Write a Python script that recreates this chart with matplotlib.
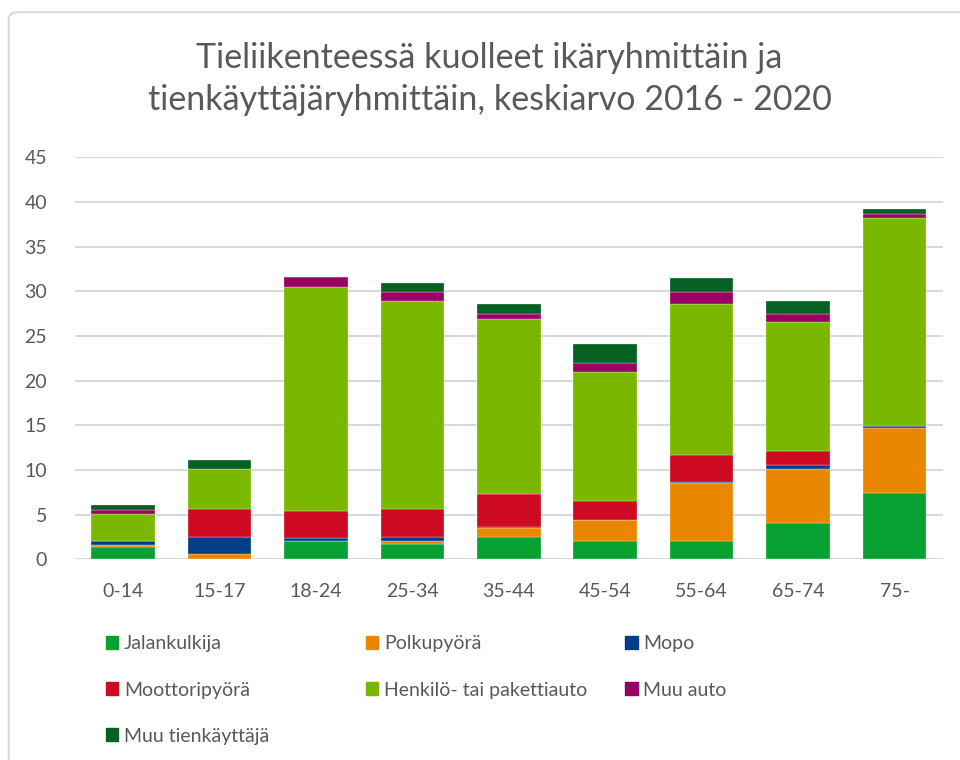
import numpy as np
import matplotlib
matplotlib.use('Agg')
import matplotlib.pyplot as plt
from matplotlib.patches import Patch, FancyBboxPatch

plt.rcParams['font.family'] = ['Lato', 'DejaVu Sans']

# keskiarvo 2016-2020, luettu kuvasta
ikaryhmat = ['0-14', '15-17', '18-24', '25-34', '35-44', '45-54', '55-64', '65-74', '75-']
jalankulkija = [1.4, 0.0, 2.0, 1.7, 2.5, 2.0, 2.1, 4.1, 7.4]
polkupyora = [0.2, 0.6, 0.1, 0.4, 1.0, 2.45, 6.4, 6.0, 7.25]
mopo = [0.4, 1.85, 0.3, 0.35, 0.15, 0.0, 0.15, 0.45, 0.3]
moottoripyora = [0.0, 3.15, 3.0, 3.15, 3.7, 2.1, 3.0, 1.55, 0.0]
henkiloauto = [3.1, 4.5, 25.1, 23.3, 19.6, 14.4, 16.9, 14.5, 23.3]
muu_auto = [0.45, 0.0, 1.05, 1.0, 0.5, 1.0, 1.4, 0.9, 0.45]
muu_tienkayttaja = [0.55, 1.0, 0.1, 1.0, 1.1, 2.1, 1.5, 1.4, 0.55]

sarjat = [
    ('Jalankulkija', jalankulkija, '#0aa133'),
    ('Polkupyörä', polkupyora, '#ea8500'),
    ('Mopo', mopo, '#003f87'),
    ('Moottoripyörä', moottoripyora, '#ce0a22'),
    ('Henkilö- tai pakettiauto', henkiloauto, '#7ab800'),
    ('Muu auto', muu_auto, '#990066'),
    ('Muu tienkäyttäjä', muu_tienkayttaja, '#056121'),
]

grey = '#595959'

fig = plt.figure(figsize=(9.6, 7.6), dpi=100)
ax = fig.add_axes([0.078, 0.264, 0.904, 0.529])

x = np.arange(len(ikaryhmat))
bottom = np.zeros(len(ikaryhmat))
for nimi, arvot, vari in sarjat:
    ax.bar(x, arvot, 0.66, bottom=bottom, color=vari, label=nimi,
           edgecolor='white', linewidth=0.2, zorder=3)
    bottom += np.array(arvot)

ax.set_xlim(-0.5, len(ikaryhmat) - 0.5)
ax.set_ylim(0, 45)
ax.set_yticks(range(0, 46, 5))
ax.set_xticks(x)
ax.set_xticklabels(ikaryhmat)
ax.yaxis.grid(True, color='#d9d9d9', linewidth=1.5, zorder=0)
ax.tick_params(length=0, labelsize=14, colors=grey)
ax.tick_params(axis='x', pad=17)
ax.tick_params(axis='y', pad=20)
for s in ax.spines.values():
    s.set_visible(False)

fig.text(0.51, 0.896, 'Tieliikenteessä kuolleet ikäryhmittäin ja\ntienkäyttäjäryhmittäin, keskiarvo 2016 - 2020',
         ha='center', va='center', fontsize=24.5, color=grey, linespacing=1.42)

# kehys
fig.patches.append(FancyBboxPatch((0.009, -0.05), 1.05, 1.034,
                                  boxstyle='round,pad=0,rounding_size=0.01',
                                  transform=fig.transFigure, fill=False,
                                  edgecolor='#d9d9d9', linewidth=1.5))

# legenda: kolme saraketta
sarakkeet = [[0, 3, 6], [1, 4], [2, 5]]
xpos = [0.110, 0.381, 0.651]
for cols, xx in zip(sarakkeet, xpos):
    handles = [Patch(color=sarjat[i][2]) for i in cols]
    labels = [sarjat[i][0] for i in cols]
    leg = fig.legend(handles, labels, loc='upper left', bbox_to_anchor=(xx, 0.164),
                     frameon=False, fontsize=14, handlelength=0.65, handleheight=0.65,
                     handletextpad=0.3, labelspacing=1.5, borderaxespad=0, borderpad=0)
    for t in leg.get_texts():
        t.set_color(grey)

fig.savefig('out.png', dpi=100)
